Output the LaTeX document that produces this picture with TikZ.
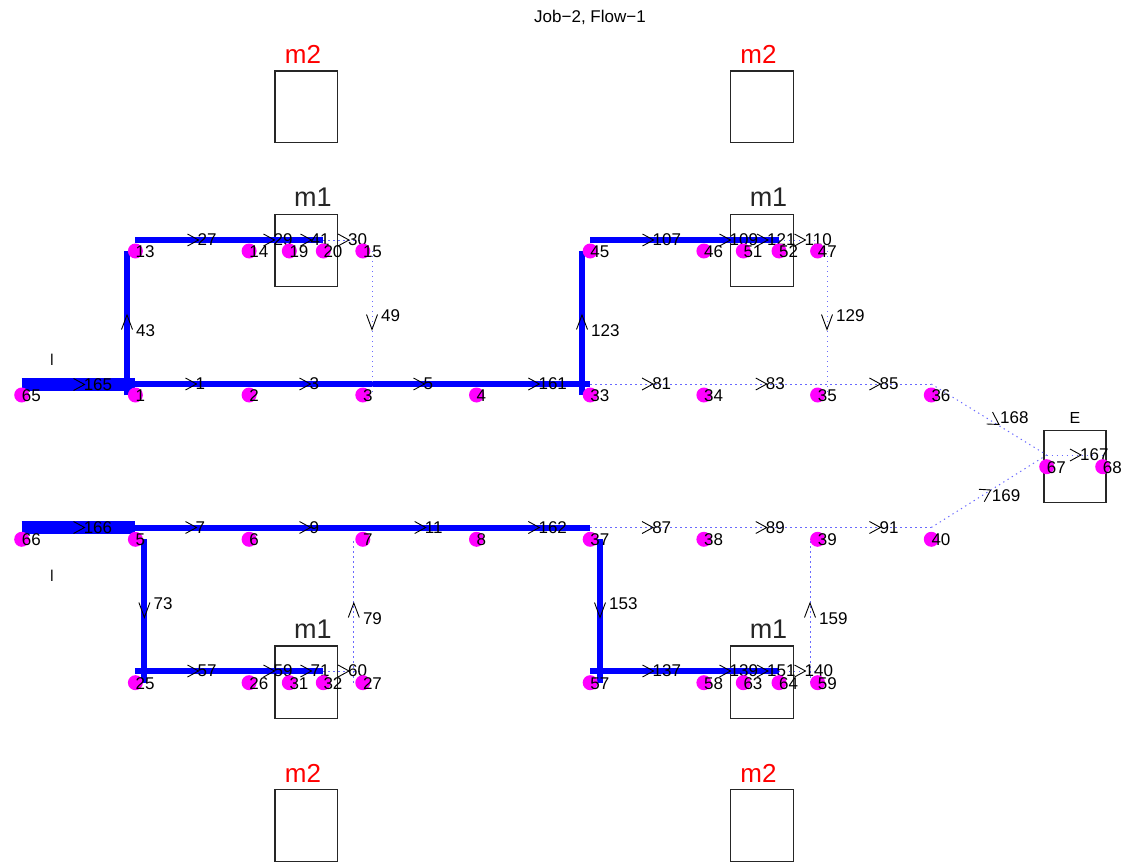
\documentclass[tikz,border=0pt]{standalone}
\usepackage{fontspec}
\setmainfont{Liberation Sans}
\definecolor{dotblue}{RGB}{105,105,255}
\definecolor{mgray}{RGB}{38,38,38}
\definecolor{pinkdot}{RGB}{255,0,255}
\newcommand{\myhch}[3]{%
  \draw[chev] ({#2-5},{#3-6}) -- ({#2+6},#3) -- ({#2-5},{#3+6});
  \node[elab] (e#1) at ({#2+5},#3) {#1};}
\newcommand{\myuch}[3]{%
  \draw[chev] ({#2-5.5},{#3+6.5}) -- (#2,{#3-8}) -- ({#2+5.5},{#3+6.5});
  \node[elab] (e#1) at ({#2+9},{#3+8}) {#1};}
\newcommand{\mydch}[3]{%
  \draw[chev] ({#2-5.5},{#3-8.5}) -- (#2,{#3+6.5}) -- ({#2+5.5},{#3-8.5});
  \node[elab] (e#1) at ({#2+9},{#3-7}) {#1};}
\begin{document}
\begin{tikzpicture}[x=1pt,y=-1pt,
  blueline/.style={draw=blue, line width=6pt},
  thickline/.style={draw=blue, line width=12.5pt},
  dotline/.style={draw=dotblue, line width=1pt, dash pattern=on 1.3pt off 3.7pt},
  chev/.style={draw=black, line width=0.9pt},
  elab/.style={anchor=west, inner sep=0pt, font=\fontsize{17}{17}\selectfont},
  vlab/.style={anchor=west, inner sep=0pt, font=\fontsize{17}{17}\selectfont},
  mbox/.style={draw=mgray, line width=1.2pt},
  mlab/.style={anchor=base, inner sep=0pt, text=mgray, font=\fontsize{27}{27}\selectfont},
  rlab/.style={anchor=base, inner sep=0pt, text=red, font=\fontsize{26}{26}\selectfont},
  slab/.style={anchor=base, inner sep=0pt, text=mgray, font=\fontsize{16.5}{16.5}\selectfont}]
\useasboundingbox (0,0) rectangle (1125,864);
\fill[white] (0,0) rectangle (1125,864);

% ---------- vertex coordinates ----------
\foreach \n/\x in {65/21.7,1/135.4,2/249.1,3/362.8,4/476.5,33/590.2,34/703.9,35/817.6,36/931.3}
  \coordinate (n\n) at (\x,395);
\foreach \n/\x in {13/135.4,14/249.1,19/289.3,20/323.3,15/362.8,45/590.2,46/703.9,51/743.3,52/779,47/817.6}
  \coordinate (n\n) at (\x,251);
\foreach \n/\x in {66/21.7,5/135.4,6/249.1,7/362.8,8/476.5,37/590.2,38/703.9,39/817.6,40/931.3}
  \coordinate (n\n) at (\x,539.3);
\foreach \n/\x in {25/135.4,26/249.1,31/289.3,32/323.3,27/362.8,57/590.2,58/703.9,63/743.3,64/779,59/817.6}
  \coordinate (n\n) at (\x,682.7);
\coordinate (n67) at (1046.7,466.7);
\coordinate (n68) at (1102.7,466.7);

% ---------- machine boxes ----------
\draw[mbox] (275,71) rectangle (337.7,142.7);
\draw[mbox] (730.7,71) rectangle (793.3,142.7);
\draw[mbox] (275,214.5) rectangle (337.7,286.7);
\draw[mbox] (730.7,214.5) rectangle (793.3,286.7);
\draw[mbox] (275,646) rectangle (337.7,718.3);
\draw[mbox] (730.7,646) rectangle (793.3,718.3);
\draw[mbox] (275,789.7) rectangle (337.7,861.3);
\draw[mbox] (730.7,789.7) rectangle (793.3,861.3);
\draw[mbox] (1044,430.7) rectangle (1106,502.7);

\node[rlab] (m2a) at (303,63.3) {m2};
\node[rlab] (m2b) at (758.5,63.3) {m2};
\node[mlab] (m1a) at (313,206.7) {m1};
\node[mlab] (m1b) at (768.5,206.7) {m1};
\node[mlab] (m1c) at (313,638.3) {m1};
\node[mlab] (m1d) at (768.5,638.3) {m1};
\node[rlab] (m2c) at (303,782.3) {m2};
\node[rlab] (m2d) at (758.5,782.3) {m2};
\node[anchor=base, inner sep=0pt, font=\fontsize{16}{16}\selectfont] (Elab) at (1075,423.3) {E};
\node[slab] (Ia) at (52,365) {I};
\node[slab] (Ib) at (52,581) {I};
\node[anchor=base, inner sep=0pt, font=\fontsize{17}{17}\selectfont] (title) at (590,22.5) {Job−2, Flow−1};

% ---------- flow lines (top half) ----------
\draw[thickline] ([yshift=10.5pt]n65) -- ([yshift=10.5pt]n1);
\draw[blueline] ([yshift=11pt]n1) -- ([yshift=11pt]n2) -- ([yshift=11pt]n3) -- ([yshift=11pt]n4) -- ([yshift=11pt]n33);
\draw[blueline] ([xshift=-8.4pt]n1) -- ([xshift=-8.4pt]n13);
\draw[blueline] ([yshift=11pt]n13) -- ([yshift=11pt]n14) -- ([yshift=11pt]n19) -- ([yshift=11pt]n20);
\draw[dotline] ([yshift=11pt]n20) -- ([yshift=11pt]n15);
\draw[dotline] ([xshift=9.2pt]n15) -- ([xshift=9.2pt]n3);
\draw[blueline] ([xshift=-8.2pt]n33) -- ([xshift=-8.2pt]n45);
\draw[blueline] ([yshift=11pt]n45) -- ([yshift=11pt]n46) -- ([yshift=11pt]n51) -- ([yshift=11pt]n52);
\draw[dotline] ([yshift=11pt]n52) -- ([yshift=11pt]n47);
\draw[dotline] ([xshift=9.4pt]n47) -- ([xshift=9.4pt]n35);
\draw[dotline] ([yshift=11pt]n33) -- ([yshift=11pt]n34) -- ([yshift=11pt]n35) -- ([yshift=11pt]n36);
\draw[dotline] ([yshift=11pt]n36) -- ([yshift=11.7pt]n67);
\draw[dotline] ([yshift=11.7pt]n67) -- ([yshift=11.7pt]n68);
% ---------- flow lines (bottom half) ----------
\draw[thickline] ([yshift=11.8pt]n66) -- ([yshift=11.8pt]n5);
\draw[blueline] ([yshift=11.8pt]n5) -- ([yshift=11.8pt]n6) -- ([yshift=11.8pt]n7) -- ([yshift=11.8pt]n8) -- ([yshift=11.8pt]n37);
\draw[blueline] ([xshift=9pt]n5) -- ([xshift=9pt]n25);
\draw[blueline] ([yshift=11.7pt]n25) -- ([yshift=11.7pt]n26) -- ([yshift=11.7pt]n31) -- ([yshift=11.7pt]n32);
\draw[dotline] ([yshift=11.7pt]n32) -- ([yshift=11.7pt]n27);
\draw[dotline] ([xshift=-9pt]n27) -- ([xshift=-9pt]n7);
\draw[blueline] ([xshift=9.8pt]n37) -- ([xshift=9.8pt]n57);
\draw[blueline] ([yshift=11.7pt]n57) -- ([yshift=11.7pt]n58) -- ([yshift=11.7pt]n63) -- ([yshift=11.7pt]n64);
\draw[dotline] ([yshift=11.7pt]n64) -- ([yshift=11.7pt]n59);
\draw[dotline] ([xshift=-7.6pt]n59) -- ([xshift=-7.6pt]n39);
\draw[dotline] ([yshift=11.8pt]n37) -- ([yshift=11.8pt]n38) -- ([yshift=11.8pt]n39) -- ([yshift=11.8pt]n40);
\draw[dotline] ([yshift=11.8pt]n40) -- ([yshift=11.7pt]n67);

% ---------- direction markers and edge labels ----------
\myhch{165}{78.55}{384.5}
\myhch{1}{190.5}{384}
\myhch{3}{304.5}{384}
\myhch{5}{418.5}{384}
\myhch{161}{533.35}{384}
\myhch{81}{647.05}{384}
\myhch{83}{760.75}{384}
\myhch{85}{874.45}{384}
\myhch{27}{192.5}{240}
\myhch{29}{268.5}{240}
\myhch{41}{305.5}{240}
\myhch{30}{343}{240}
\myhch{107}{647.5}{240}
\myhch{109}{724.5}{240}
\myhch{121}{762}{240}
\myhch{110}{799.5}{240}
\myhch{166}{78.55}{527.5}
\myhch{7}{190.5}{527.5}
\myhch{9}{304.5}{527.5}
\myhch{11}{419.65}{527.5}
\myhch{162}{533.35}{527.5}
\myhch{87}{647.05}{527.5}
\myhch{89}{760.75}{527.5}
\myhch{91}{874.45}{527.5}
\myhch{57}{192.5}{671}
\myhch{59}{268.5}{671}
\myhch{71}{305.5}{671}
\myhch{60}{343}{671}
\myhch{137}{647.5}{671}
\myhch{139}{724.5}{671}
\myhch{151}{762}{671}
\myhch{140}{799.5}{671}
\myhch{167}{1075}{455}
\myuch{43}{127}{323}
\mydch{49}{372}{323}
\myuch{123}{582}{323}
\mydch{129}{827}{323}
\mydch{73}{144.4}{611}
\myuch{79}{353.8}{611}
\mydch{153}{600}{611}
\myuch{159}{810}{611}
\draw[chev] (986.7,424) -- (999,424.5) -- (992.5,412);
\node[elab] (e168) at (1000,417.5) {168};
\draw[chev] (979,489.3) -- (990.7,490) -- (984.3,501.7);
\node[elab] (e169) at (991.7,496) {169};

% ---------- vertices ----------
\foreach \n in {65,1,2,3,4,33,34,35,36,13,14,19,20,15,45,46,51,52,47,66,5,6,7,8,37,38,39,40,25,26,31,32,27,57,58,63,64,59,67,68}
  \fill[pinkdot] (n\n) circle[radius=7.5pt];
\foreach \n in {65,1,2,3,4,33,34,35,36,13,14,19,20,15,45,46,51,52,47,66,5,6,7,8,37,38,39,40,25,26,31,32,27,57,58,63,64,59,67,68}
  \node[vlab] (l\n) at ([yshift=-0.8pt]n\n) {\n};
\end{tikzpicture}
\end{document}
